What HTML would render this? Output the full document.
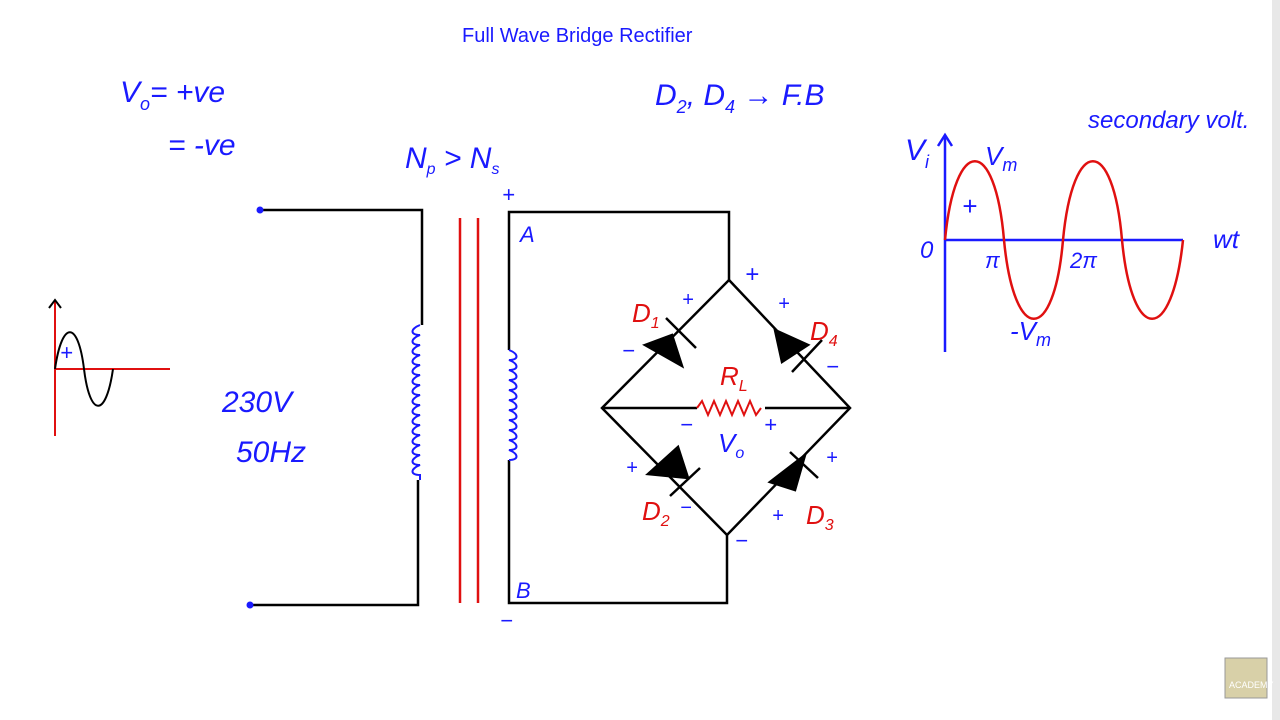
<!DOCTYPE html>
<html><head><meta charset="utf-8"><style>
html,body{margin:0;padding:0;background:#fff;}
svg{display:block;}
text{font-family:"Liberation Sans",sans-serif;}
</style></head><body>
<svg width="1280" height="720" viewBox="0 0 1280 720" xmlns="http://www.w3.org/2000/svg">
<rect width="1280" height="720" fill="#fff"/>
<rect x="1272" y="0" width="8" height="720" fill="#e8e8e8"/>
<text x="462" y="42" font-size="20" fill="#1a1aff">Full Wave Bridge Rectifier</text>
<!-- left notes -->
<g fill="#1a1aff" font-size="30" font-style="italic">
<text x="120" y="102">V<tspan font-size="18" dy="8">o</tspan><tspan dy="-8">= +ve</tspan></text>
<text x="168" y="155">= -ve</text>
<text x="655" y="105">D<tspan font-size="18" dy="8">2</tspan><tspan dy="-8">, D</tspan><tspan font-size="18" dy="8">4</tspan><tspan dy="-8"> → F.B</tspan></text>
<text x="405" y="168">N<tspan font-size="16" dy="6">p</tspan><tspan dy="-6"> &gt; N</tspan><tspan font-size="16" dy="6">s</tspan></text>
<text x="222" y="412">230V</text>
<text x="236" y="462">50Hz</text>
<text x="1088" y="128" font-size="24">secondary volt.</text>
<text x="905" y="160">V<tspan font-size="18" dy="8">i</tspan></text>
<text x="985" y="165" font-size="26">V<tspan font-size="18" dy="6">m</tspan></text>
<text x="1213" y="248" font-size="26">wt</text>
<text x="920" y="258" font-size="24">0</text>
<text x="985" y="268" font-size="22">π</text>
<text x="1070" y="268" font-size="22">2π</text>
<text x="1010" y="340" font-size="26">-V<tspan font-size="18" dy="6">m</tspan></text>
<text x="962" y="215" font-size="26">+</text>
<text x="60" y="360" font-size="22">+</text>
<text x="520" y="242" font-size="22">A</text>
<text x="516" y="598" font-size="22">B</text>
<text x="502" y="202" font-size="22">+</text>
<text x="500" y="628" font-size="22">−</text>
<text x="718" y="452" font-size="26">V<tspan font-size="16" dy="6">o</tspan></text>
<text x="745" y="282" font-size="24">+</text>
<text x="735" y="548" font-size="22">−</text>
<text x="680" y="432" font-size="22">−</text>
<text x="764" y="432" font-size="22">+</text>
<text x="682" y="306" font-size="20">+</text>
<text x="622" y="358" font-size="22">−</text>
<text x="778" y="310" font-size="20">+</text>
<text x="826" y="374" font-size="22">−</text>
<text x="626" y="474" font-size="20">+</text>
<text x="680" y="514" font-size="20">−</text>
<text x="772" y="522" font-size="20">+</text>
<text x="826" y="464" font-size="20">+</text>
</g>
<g fill="#e01010" font-size="26" font-style="italic">
<text x="632" y="322">D<tspan font-size="16" dy="6">1</tspan></text>
<text x="810" y="340">D<tspan font-size="16" dy="6">4</tspan></text>
<text x="642" y="520">D<tspan font-size="16" dy="6">2</tspan></text>
<text x="806" y="524">D<tspan font-size="16" dy="6">3</tspan></text>
<text x="720" y="385">R<tspan font-size="16" dy="6">L</tspan></text>
</g>
<!-- small sine -->
<g fill="none" stroke-width="2">
<line x1="55" y1="300" x2="55" y2="436" stroke="#e01010"/>
<path d="M49,308 L55,300 L61,308" stroke="#000"/>
<line x1="55" y1="369" x2="170" y2="369" stroke="#e01010"/>
<path d="M55,369 C62,320 78,320 84,369 C90,418 106,418 113,369" stroke="#000"/>
</g>
<!-- primary -->
<g fill="none" stroke="#000" stroke-width="2.5">
<path d="M260,210 H422 V325"/>
<path d="M418,480 V605 H250"/>
<path d="M509,350 V212 H729 V280"/>
<path d="M509,460 V603 H727 V535"/>
<path d="M729,280 L850,408 L727,535 L602,408 Z"/>
<path d="M602,408 H697"/><path d="M765,408 H850"/>
</g>
<circle cx="260" cy="210" r="3.5" fill="#1a1aff"/>
<circle cx="250" cy="605" r="3.5" fill="#1a1aff"/>
<g stroke="#e01010" stroke-width="2.5">
<line x1="460" y1="218" x2="460" y2="603"/>
<line x1="478" y1="218" x2="478" y2="603"/>
</g>
<!-- coils -->
<g fill="none" stroke="#1a1aff" stroke-width="2">
<path d="M420,325 c-10,4 -10,10 0,10 c-10,4 -10,10 0,10 c-10,4 -10,10 0,10 c-10,4 -10,10 0,10 c-10,4 -10,10 0,10 c-10,4 -10,10 0,10 c-10,4 -10,10 0,10 c-10,4 -10,10 0,10 c-10,4 -10,10 0,10 c-10,4 -10,10 0,10 c-10,4 -10,10 0,10 c-10,4 -10,10 0,10 c-10,4 -10,10 0,10 c-10,4 -10,10 0,10 c-10,4 -10,10 0,10 v5"/>
<path d="M509,350 c10,4 10,10 0,10 c10,4 10,10 0,10 c10,4 10,10 0,10 c10,4 10,10 0,10 c10,4 10,10 0,10 c10,4 10,10 0,10 c10,4 10,10 0,10 c10,4 10,10 0,10 c10,4 10,10 0,10 c10,4 10,10 0,10 c10,4 10,10 0,10"/>
</g>
<path d="M697,408 l5,-7 l6,14 l6,-14 l6,14 l6,-14 l6,14 l6,-14 l6,14 l6,-14 l6,14 l5,-7" fill="none" stroke="#e01010" stroke-width="2"/>
<!-- diodes -->
<g fill="#000" stroke="#000" stroke-width="2.5">
<polygon points="645,345 672,335 682,366"/><line x1="666" y1="318" x2="696" y2="348"/>
<polygon points="775,330 808,345 782,362"/><line x1="792" y1="372" x2="822" y2="340"/>
<polygon points="648,474 678,447 688,478"/><line x1="670" y1="496" x2="700" y2="468"/>
<polygon points="770,482 805,455 795,490"/><line x1="790" y1="452" x2="818" y2="478"/>
</g>
<!-- right graph -->
<g fill="none" stroke-width="2.5">
<line x1="945" y1="135" x2="945" y2="352" stroke="#1a1aff"/>
<path d="M938,146 L945,135 L952,146" stroke="#1a1aff"/>
<line x1="945" y1="240" x2="1183" y2="240" stroke="#1a1aff"/>
<path d="M945,240 C955,135 995,135 1004,240 C1014,345 1054,345 1063,240 C1073,135 1113,135 1122,240 C1132,345 1172,345 1183,240" stroke="#e01010"/>
</g>
<rect x="1225" y="658" width="42" height="40" fill="#d8d0a8" stroke="#999"/>
<text x="1229" y="688" font-size="9" fill="#fff">ACADEMY</text>
</svg>
</body></html>
